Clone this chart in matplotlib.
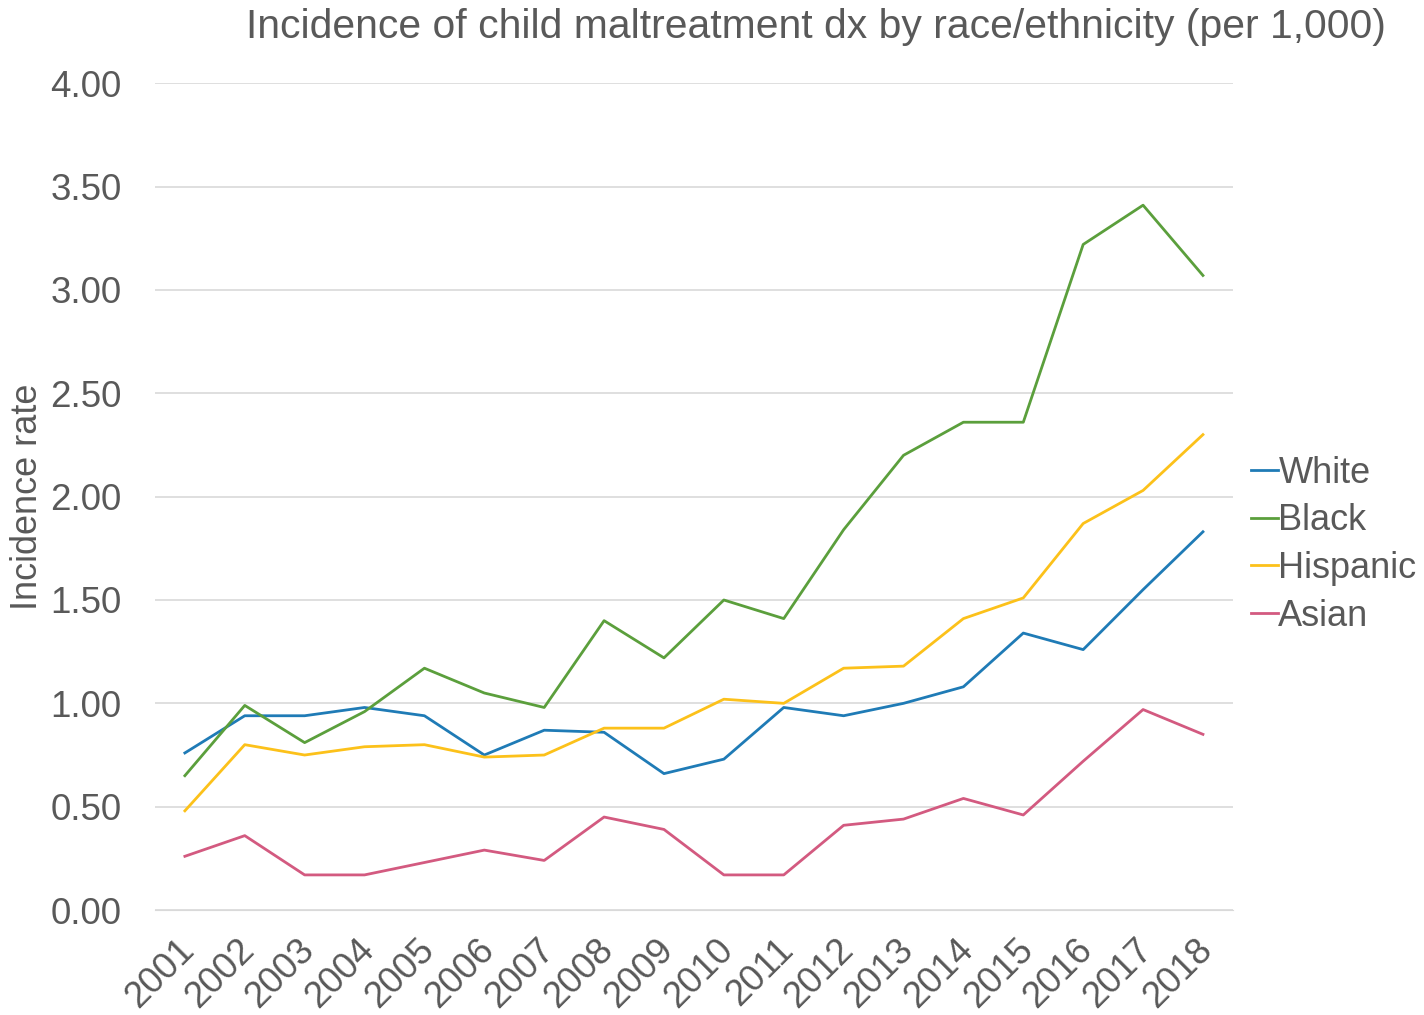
import numpy as np
import matplotlib.pyplot as plt
from matplotlib.transforms import ScaledTranslation

plt.rcParams['font.family'] = ['Liberation Sans', 'DejaVu Sans']

years = [str(y) for y in range(2001, 2019)]
white = [0.76, 0.94, 0.94, 0.98, 0.94, 0.75, 0.87, 0.86, 0.66, 0.73,
         0.98, 0.94, 1.00, 1.08, 1.34, 1.26, 1.55, 1.83]
black = [0.65, 0.99, 0.81, 0.96, 1.17, 1.05, 0.98, 1.40, 1.22, 1.50,
         1.41, 1.84, 2.20, 2.36, 2.36, 3.22, 3.41, 3.07]
hispanic = [0.48, 0.80, 0.75, 0.79, 0.80, 0.74, 0.75, 0.88, 0.88, 1.02,
            1.00, 1.17, 1.18, 1.41, 1.51, 1.87, 2.03, 2.30]
asian = [0.26, 0.36, 0.17, 0.17, 0.23, 0.29, 0.24, 0.45, 0.39, 0.17,
         0.17, 0.41, 0.44, 0.54, 0.46, 0.72, 0.97, 0.85]

grey = '#595959'
fig = plt.figure(figsize=(14.24, 10.15), dpi=100)
ax = fig.add_axes([0.1088, 0.1034, 0.757, 0.8146])

x = np.arange(len(years))
ax.plot(x, white, color='#1f7bb6', lw=2, label='White')
ax.plot(x, black, color='#5b9f3c', lw=2, label='Black')
ax.plot(x, hispanic, color='#fcc11a', lw=2, label='Hispanic')
ax.plot(x, asian, color='#d35a80', lw=2, label='Asian')

ax.set_xlim(-0.5, len(years) - 0.5)
ax.set_ylim(0, 4)
ax.set_yticks(np.arange(0, 4.01, 0.5))
ax.set_yticklabels(['%.2f' % v for v in np.arange(0, 4.01, 0.5)])
ax.set_xticks(x)
ax.set_xticklabels(years, rotation=45, ha='right', rotation_mode='anchor')
ax.tick_params(axis='both', length=0, labelcolor=grey)
ax.tick_params(axis='y', pad=24, labelsize=26.5)
ax.tick_params(axis='x', pad=16, labelsize=26.5)
off = ScaledTranslation(-8 / 100, 0, fig.dpi_scale_trans)
for lbl in ax.get_xticklabels():
    lbl.set_transform(lbl.get_transform() + off)
ax.grid(axis='y', color='#d9d9d9', lw=1.2)
ax.set_axisbelow(True)
for s in ax.spines.values():
    s.set_visible(False)
ax.spines['bottom'].set_visible(True)
ax.spines['bottom'].set_color('#d9d9d9')

fig.text(28 / 1424, 1 - 497 / 1015, 'Incidence rate', fontsize=26, color=grey,
         rotation=90, ha='center', va='center')
fig.text(0.573, 0.973, 'Incidence of child maltreatment dx by race/ethnicity (per 1,000)',
         fontsize=29.4, color=grey, ha='center', va='center')

ax.legend(loc='center left', bbox_to_anchor=(1.003, 0.442), frameon=False,
          fontsize=26, labelcolor=grey, handlelength=0.75, handletextpad=0.02,
          labelspacing=0.35, borderaxespad=0)

plt.savefig('out.png', dpi=100)
